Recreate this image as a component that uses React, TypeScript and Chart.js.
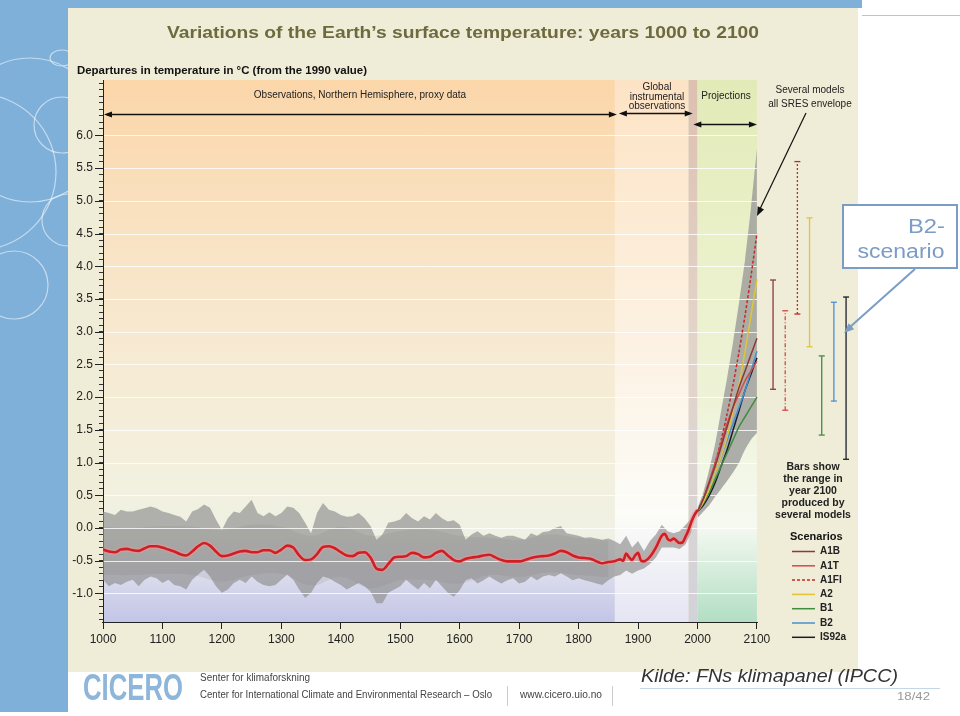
import React, { useEffect, useRef } from 'react';
import { Chart, registerables } from 'chart.js';

Chart.register(...registerables);

// ---------- data ----------
const X_TICKS = [1000, 1100, 1200, 1300, 1400, 1500, 1600, 1700, 1800, 1900, 2000, 2100];
const Y_MAJOR = [-1.0, -0.5, 0.0, 0.5, 1.0, 1.5, 2.0, 2.5, 3.0, 3.5, 4.0, 4.5, 5.0, 5.5, 6.0];

// proxy / instrumental annual range, decadal steps from 1000 to 1990
const BAND_START = 1000;
const BAND_STEP = 10;
const BAND_UPPER = [
  0.25, 0.23, 0.2, 0.28, 0.25, 0.25, 0.28, 0.3, 0.33, 0.3,
  0.25, 0.23, 0.2, 0.17, 0.1, 0.25, 0.29, 0.36, 0.31, 0.13,
  -0.03, 0.15, 0.25, 0.23, 0.33, 0.43, 0.23, 0.18, 0.24, 0.18,
  0.23, 0.33, 0.31, 0.23, 0.08, -0.08, 0.23, 0.38, 0.28, 0.25,
  0.2, 0.17, 0.18, 0.23, 0.15, 0.03, -0.18, -0.1, 0.08, 0.1,
  0.13, 0.23, 0.15, 0.1, 0.18, 0.13, 0.23, 0.15, 0.1, 0.12,
  0.05, -0.18, -0.1, -0.05, -0.12, -0.08, -0.12, -0.15, -0.12, -0.12,
  -0.15, -0.18, -0.08, -0.12, -0.06, -0.05, 0.0, 0.03, -0.08, -0.1,
  -0.12, -0.15, -0.14, -0.16, -0.18, -0.16, -0.2, -0.25, -0.12, -0.3,
  -0.2, -0.35, -0.2, -0.1, 0.05, -0.05, -0.08, -0.05, 0.05, 0.15,
];
const BAND_LOWER = [
  -0.79, -0.89, -0.84, -0.87, -0.82, -0.79, -0.89, -0.79, -0.74, -0.77,
  -0.84, -0.79, -0.87, -0.89, -0.94, -0.79, -0.71, -0.64, -0.74, -0.89,
  -0.99, -0.94, -0.84, -0.79, -0.84, -0.74, -0.82, -0.87, -0.89, -0.87,
  -0.79, -0.71, -0.79, -0.94, -1.07, -0.99, -0.84, -0.74, -0.77, -0.82,
  -0.87, -0.94, -0.89, -0.84, -0.89, -0.97, -1.15, -1.15, -0.99, -0.94,
  -0.89, -0.79, -0.87, -0.94, -0.84, -0.92, -0.79, -0.89, -0.99, -1.05,
  -0.95, -0.8, -0.77, -0.85, -0.8, -0.74, -0.8, -0.85, -0.8, -0.77,
  -0.85, -0.82, -0.74, -0.8, -0.74, -0.72, -0.74, -0.69, -0.74, -0.8,
  -0.77, -0.8, -0.82, -0.85, -0.87, -0.8, -0.74, -0.72, -0.65, -0.7,
  -0.65, -0.62, -0.55, -0.45, -0.3, -0.3, -0.3, -0.32, -0.25, -0.05,
];

// darker inner uncertainty band (every 50 years)
const INNER_YEARS = [1000, 1050, 1100, 1150, 1200, 1250, 1300, 1350, 1400, 1450, 1500, 1550, 1600, 1650, 1700, 1750, 1800, 1850];
const INNER_UPPER = [0.02, 0.0, 0.03, 0.02, -0.03, 0.05, 0.02, -0.12, 0.02, -0.12, -0.05, -0.03, -0.12, -0.15, -0.18, -0.1, -0.15, -0.2];
const INNER_LOWER = [-0.72, -0.72, -0.7, -0.72, -0.82, -0.72, -0.7, -0.88, -0.75, -0.92, -0.8, -0.8, -0.85, -0.72, -0.75, -0.68, -0.72, -0.75];

// smoothed observations (red curve)
const RED_YEARS = [
  1000, 1010, 1020, 1030, 1040, 1050, 1060, 1070, 1080, 1090,
  1100, 1110, 1120, 1130, 1140, 1150, 1160, 1170, 1180, 1190,
  1200, 1210, 1220, 1230, 1240, 1250, 1260, 1270, 1280, 1290,
  1300, 1310, 1320, 1330, 1340, 1350, 1360, 1370, 1380, 1390,
  1400, 1410, 1420, 1430, 1440, 1450, 1460, 1470, 1480, 1490,
  1500, 1510, 1520, 1530, 1540, 1550, 1560, 1570, 1580, 1590,
  1600, 1610, 1620, 1630, 1640, 1650, 1660, 1670, 1680, 1690,
  1700, 1710, 1720, 1730, 1740, 1750, 1760, 1770, 1780, 1790,
  1800, 1810, 1820, 1830, 1840, 1850, 1860, 1870, 1875, 1880,
  1885, 1890, 1895, 1900, 1905, 1910, 1920, 1930, 1940, 1945,
  1950, 1955, 1960, 1965, 1970, 1975, 1980, 1985, 1990, 1995, 2000,
];
const RED_VALUES = [
  -0.33, -0.36, -0.37, -0.33, -0.32, -0.34, -0.35, -0.31, -0.28, -0.28,
  -0.3, -0.33, -0.36, -0.4, -0.42, -0.36, -0.28, -0.23, -0.27, -0.36,
  -0.43, -0.42, -0.39, -0.36, -0.35, -0.37, -0.37, -0.34, -0.34, -0.38,
  -0.33, -0.27, -0.3, -0.42, -0.49, -0.48, -0.4, -0.29, -0.28, -0.31,
  -0.37, -0.42, -0.43, -0.38, -0.37, -0.45, -0.62, -0.64, -0.55, -0.45,
  -0.44, -0.43, -0.38, -0.4, -0.45, -0.44, -0.38, -0.35, -0.42, -0.49,
  -0.51, -0.47, -0.45, -0.44, -0.42, -0.41, -0.45, -0.49, -0.51, -0.51,
  -0.51, -0.49, -0.46, -0.44, -0.43, -0.42, -0.39, -0.35, -0.37, -0.42,
  -0.45, -0.46, -0.47, -0.51, -0.54, -0.52, -0.51, -0.48, -0.5, -0.39,
  -0.45, -0.49, -0.42, -0.38, -0.5, -0.51, -0.44, -0.3, -0.12, -0.09,
  -0.17, -0.19, -0.16, -0.2, -0.23, -0.22, -0.13, -0.03, 0.1, 0.2, 0.27,
];

// projections
const PROJ_YEARS = [2000, 2010, 2020, 2030, 2040, 2050, 2060, 2070, 2080, 2090, 2100];
const SCENARIOS = ['A1B', 'A1T', 'A1FI', 'A2', 'B1', 'B2', 'IS92a'];
const PROJ_A1B = [0.25, 0.45, 0.7, 0.95, 1.25, 1.55, 1.85, 2.15, 2.4, 2.65, 2.9];
const PROJ_A1T = [0.25, 0.45, 0.72, 1.0, 1.3, 1.6, 1.85, 2.05, 2.25, 2.4, 2.55];
const PROJ_A1FI = [0.25, 0.45, 0.7, 1.0, 1.35, 1.75, 2.2, 2.7, 3.25, 3.85, 4.5];
const PROJ_A2 = [0.25, 0.4, 0.6, 0.85, 1.1, 1.4, 1.8, 2.2, 2.7, 3.25, 3.8];
const PROJ_B1 = [0.25, 0.38, 0.55, 0.75, 0.95, 1.15, 1.35, 1.55, 1.7, 1.85, 2.0];
const PROJ_B2 = [0.25, 0.42, 0.62, 0.85, 1.1, 1.35, 1.6, 1.85, 2.1, 2.4, 2.7];
const PROJ_IS92A = [0.25, 0.35, 0.5, 0.7, 0.95, 1.2, 1.5, 1.8, 2.1, 2.35, 2.6];
const PROJ_SERIES = [PROJ_A1B, PROJ_A1T, PROJ_A1FI, PROJ_A2, PROJ_B1, PROJ_B2, PROJ_IS92A];

// all SRES envelope
const ENV_UPPER = [0.3, 0.55, 0.9, 1.3, 1.8, 2.3, 2.85, 3.45, 4.1, 4.9, 5.8];
const ENV_LOWER = [0.15, 0.25, 0.35, 0.48, 0.6, 0.72, 0.85, 1.0, 1.2, 1.35, 1.45];

// model range in year 2100 per scenario
const RANGE_LOW = [2.12, 1.8, 3.27, 2.77, 1.42, 1.94, 1.05];
const RANGE_HIGH = [3.79, 3.32, 5.6, 4.74, 2.63, 3.45, 3.53];

// ---------- styles ----------
const STYLE: Record<string, { color: string; dash: number[]; barDash: number[] }> = {
  A1B: { color: '#8a3a3a', dash: [], barDash: [] },
  A1T: { color: '#d44a4a', dash: [], barDash: [4, 2, 1, 2] },
  A1FI: { color: '#c62828', dash: [3, 2], barDash: [2, 2] },
  A2: { color: '#e2c43c', dash: [], barDash: [] },
  B1: { color: '#3e8e3e', dash: [], barDash: [] },
  B2: { color: '#4a90d0', dash: [], barDash: [] },
  IS92a: { color: '#1c1c28', dash: [], barDash: [] },
};
const FONT = '"Liberation Sans", Arial, Helvetica, sans-serif';

function fitText(ctx: CanvasRenderingContext2D, text: string, x: number, y: number, width: number, font: string, color: string, align = 'left') {
  ctx.save();
  ctx.font = font;
  ctx.fillStyle = color;
  ctx.textBaseline = 'alphabetic';
  const w = ctx.measureText(text).width;
  const sx = width / w;
  let x0 = x;
  if (align === 'center') x0 = x - width / 2;
  else if (align === 'right') x0 = x - width;
  ctx.translate(x0, y);
  ctx.scale(sx, 1);
  ctx.textAlign = 'left';
  ctx.fillText(text, 0, 0);
  ctx.restore();
}

function text(ctx: CanvasRenderingContext2D, t: string, x: number, y: number, font: string, color: string, align: CanvasTextAlign = 'center') {
  ctx.save();
  ctx.font = font;
  ctx.fillStyle = color;
  ctx.textAlign = align;
  ctx.textBaseline = 'middle';
  ctx.fillText(t, x, y);
  ctx.restore();
}

function head(ctx: CanvasRenderingContext2D, x0: number, y0: number, x1: number, y1: number, len = 7, half = 3) {
  const a = Math.atan2(y1 - y0, x1 - x0);
  ctx.beginPath();
  ctx.moveTo(x1, y1);
  ctx.lineTo(x1 - len * Math.cos(a) + half * Math.sin(a), y1 - len * Math.sin(a) - half * Math.cos(a));
  ctx.lineTo(x1 - len * Math.cos(a) - half * Math.sin(a), y1 - len * Math.sin(a) + half * Math.cos(a));
  ctx.closePath();
  ctx.fill();
}

function dblArrow(ctx: CanvasRenderingContext2D, xa: number, xb: number, y: number) {
  ctx.save();
  ctx.strokeStyle = '#111';
  ctx.fillStyle = '#111';
  ctx.lineWidth = 1.3;
  ctx.beginPath();
  ctx.moveTo(xa + 3, y);
  ctx.lineTo(xb - 3, y);
  ctx.stroke();
  head(ctx, xb, y, xa, y, 8, 3);
  head(ctx, xa, y, xb, y, 8, 3);
  ctx.restore();
}

const decor = {
  id: 'decor',
  beforeDraw(chart: any) {
    const ctx: CanvasRenderingContext2D = chart.ctx;
    const ca = chart.chartArea;
    const xs = chart.scales.x;
    ctx.save();
    ctx.fillStyle = '#ffffff';
    ctx.fillRect(0, 0, 960, 716);
    ctx.fillStyle = '#7fb0d9';
    ctx.fillRect(0, 0, 68, 712);
    ctx.fillRect(0, 0, 862, 8);
    ctx.strokeStyle = '#a9c8e4';
    ctx.lineWidth = 1;
    ctx.beginPath();
    ctx.moveTo(862, 15.5);
    ctx.lineTo(960, 15.5);
    ctx.stroke();
    // decorative circles
    ctx.save();
    ctx.beginPath();
    ctx.rect(0, 8, 68, 704);
    ctx.clip();
    ctx.strokeStyle = 'rgba(255,255,255,0.55)';
    ctx.lineWidth = 1.2;
    const circ = (cx: number, cy: number, r: number) => { ctx.beginPath(); ctx.arc(cx, cy, r, 0, Math.PI * 2); ctx.stroke(); };
    circ(30, 130, 72);
    circ(-22, 172, 78);
    circ(62, 125, 28);
    circ(68, 220, 26);
    circ(14, 285, 34);
    ctx.beginPath(); ctx.ellipse(62, 58, 12, 8, 0, 0, Math.PI * 2); ctx.stroke();
    ctx.restore();
    // figure background
    ctx.fillStyle = '#efecd7';
    ctx.fillRect(68, 8, 790, 664);
    // period backgrounds
    const top = ca.top, bot = ca.bottom;
    const region = (y0: number, y1: number, stops: [number, string][]) => {
      const a = xs.getPixelForValue(y0), b = xs.getPixelForValue(y1);
      const g = ctx.createLinearGradient(0, top, 0, bot);
      stops.forEach(([o, c]) => g.addColorStop(o, c));
      ctx.fillStyle = g;
      ctx.fillRect(a, top, b - a, bot - top);
    };
    region(1000, 1861, [[0, '#fbd6a9'], [0.25, '#f9e1c0'], [0.5, '#f7ead2'], [0.72, '#f3f0de'], [0.84, '#eff1e4'], [0.92, '#d9daec'], [1, '#c2c5e6']]);
    region(1861, 1985, [[0, '#fde3c5'], [0.4, '#fcefdd'], [0.8, '#fcfcf8'], [1, '#e4e5f3']]);
    region(1985, 2000, [[0, '#dcc0b0'], [0.5, '#e3d5cb'], [1, '#d2d2da']]);
    region(2000, 2100, [[0, '#e2eab8'], [0.3, '#eaf0c8'], [0.6, '#eef3d8'], [0.82, '#f6f9f1'], [1, '#b2dec4']]);
    ctx.restore();
  },
  afterDatasetDraw(chart: any, args: any) {
    if (chart.data.datasets[args.index].label !== 'envUpper') return;
    const ctx: CanvasRenderingContext2D = chart.ctx;
    const xs = chart.scales.x, ys = chart.scales.y;
    ctx.save();
    ctx.strokeStyle = 'rgba(255,255,255,0.8)';
    ctx.lineWidth = 1;
    const a = xs.getPixelForValue(1000) + 1, b = xs.getPixelForValue(2100);
    for (const v of Y_MAJOR) {
      const y = Math.round(ys.getPixelForValue(v)) + 0.5;
      ctx.beginPath();
      ctx.moveTo(a, y);
      ctx.lineTo(b, y);
      ctx.stroke();
    }
    ctx.restore();
  },
  afterDraw(chart: any) {
    const ctx: CanvasRenderingContext2D = chart.ctx;
    const ca = chart.chartArea;
    const xs = chart.scales.x, ys = chart.scales.y;
    ctx.save();
    // x axis line
    ctx.strokeStyle = '#222';
    ctx.lineWidth = 1;
    ctx.beginPath();
    ctx.moveTo(xs.getPixelForValue(1000) - 1, Math.round(ca.bottom) + 0.5);
    ctx.lineTo(xs.getPixelForValue(2100) + 1, Math.round(ca.bottom) + 0.5);
    ctx.stroke();
    // major y ticks
    for (const v of Y_MAJOR) {
      const y = Math.round(ys.getPixelForValue(v)) + 0.5;
      ctx.beginPath();
      ctx.moveTo(ca.left - 8, y);
      ctx.lineTo(ca.left, y);
      ctx.stroke();
    }
    // titles
    fitText(ctx, 'Variations of the Earth\u2019s surface temperature: years 1000 to 2100', 463, 38, 592, `bold 17px ${FONT}`, '#6d6a3e', 'center');
    fitText(ctx, 'Departures in temperature in \u00B0C (from the 1990 value)', 77, 74, 290, `bold 11px ${FONT}`, '#111');
    // period headers
    const f10 = `10px ${FONT}`;
    text(ctx, 'Observations, Northern Hemisphere, proxy data', 360, 95, f10, '#222');
    text(ctx, 'Global', 657, 87, f10, '#222');
    text(ctx, 'instrumental', 657, 97, f10, '#222');
    text(ctx, 'observations', 657, 106, f10, '#222');
    text(ctx, 'Projections', 726, 96, f10, '#222');
    text(ctx, 'Several models', 810, 90, f10, '#222');
    text(ctx, 'all SRES envelope', 810, 104, f10, '#222');
    dblArrow(ctx, xs.getPixelForValue(1000) + 1, xs.getPixelForValue(1861) + 2, 114.5);
    dblArrow(ctx, xs.getPixelForValue(1861) + 4, xs.getPixelForValue(1992), 113.5);
    dblArrow(ctx, xs.getPixelForValue(1993), xs.getPixelForValue(2100), 124.5);
    // envelope pointer
    ctx.strokeStyle = '#111';
    ctx.fillStyle = '#111';
    ctx.lineWidth = 1.2;
    ctx.beginPath();
    ctx.moveTo(806, 113);
    ctx.lineTo(759, 211);
    ctx.stroke();
    head(ctx, 806, 113, 757, 216, 9, 3.5);
    // bars note
    const fb = `bold 10.5px ${FONT}`;
    ['Bars show', 'the range in', 'year 2100', 'produced by', 'several models'].forEach((t, i) => text(ctx, t, 813, 467 + i * 12, fb, '#222'));
    // legend
    text(ctx, 'Scenarios', 790, 537, `bold 11px ${FONT}`, '#111', 'left');
    SCENARIOS.forEach((s, i) => {
      const y = 551.5 + i * 14.3;
      const st = STYLE[s];
      ctx.save();
      ctx.strokeStyle = st.color;
      ctx.lineWidth = 1.5;
      ctx.setLineDash(st.dash);
      ctx.beginPath();
      ctx.moveTo(792, y);
      ctx.lineTo(815, y);
      ctx.stroke();
      ctx.restore();
      text(ctx, s, 820, y, `bold 10px ${FONT}`, '#222', 'left');
    });
    // footer
    fitText(ctx, 'CICERO', 83, 700, 100, `bold 36px ${FONT}`, '#8db6da');
    fitText(ctx, 'Senter for klimaforskning', 200, 681, 110, `10px ${FONT}`, '#444');
    fitText(ctx, 'Center for International Climate and Environmental Research \u2013 Oslo', 200, 698, 292, `11px ${FONT}`, '#444');
    fitText(ctx, 'www.cicero.uio.no', 520, 698, 82, `11px ${FONT}`, '#444');
    ctx.strokeStyle = '#cccccc';
    ctx.lineWidth = 1;
    ctx.beginPath();
    ctx.moveTo(507.5, 686); ctx.lineTo(507.5, 706);
    ctx.moveTo(612.5, 686); ctx.lineTo(612.5, 706);
    ctx.stroke();
    fitText(ctx, 'Kilde: FNs klimapanel (IPCC)', 641, 682, 257, `italic 18px ${FONT}`, '#333');
    ctx.strokeStyle = '#c5d6e6';
    ctx.beginPath();
    ctx.moveTo(640, 688.5); ctx.lineTo(940, 688.5);
    ctx.stroke();
    fitText(ctx, '18/42', 897, 700, 33, `10px ${FONT}`, '#999');
    // B2 callout
    ctx.fillStyle = '#ffffff';
    ctx.fillRect(843, 205, 114, 63);
    ctx.strokeStyle = '#7b9cc5';
    ctx.lineWidth = 2;
    ctx.strokeRect(843, 205, 114, 63);
    fitText(ctx, 'B2-', 945, 233, 37, `20px ${FONT}`, '#7b9cc5', 'right');
    fitText(ctx, 'scenario', 901, 258, 87, `20px ${FONT}`, '#7b9cc5', 'center');
    ctx.beginPath();
    ctx.moveTo(915, 269);
    ctx.lineTo(850, 327);
    ctx.stroke();
    ctx.fillStyle = '#7b9cc5';
    head(ctx, 915, 269, 844, 333, 10, 4);
    ctx.restore();
  },
};

export default function App() {
  const ref = useRef<HTMLCanvasElement>(null);
  useEffect(() => {
    const pts = (xsArr: number[], ysArr: number[]) => ysArr.map((y, i) => ({ x: xsArr[i], y }));
    const bandYears = BAND_UPPER.map((_, i) => BAND_START + i * BAND_STEP);
    const datasets: any[] = [
      { label: 'bandUpper', data: pts(bandYears, BAND_UPPER), borderWidth: 0, pointRadius: 0, fill: '+1', backgroundColor: 'rgba(145,145,145,0.68)', order: 10 },
      { label: 'bandLower', data: pts(bandYears, BAND_LOWER), borderWidth: 0, pointRadius: 0, fill: false, order: 10 },
      { label: 'innerUpper', data: pts(INNER_YEARS, INNER_UPPER), tension: 0.4, borderWidth: 0, pointRadius: 0, fill: '+1', backgroundColor: 'rgba(120,120,120,0.15)', order: 9 },
      { label: 'innerLower', data: pts(INNER_YEARS, INNER_LOWER), tension: 0.4, borderWidth: 0, pointRadius: 0, fill: false, order: 9 },
      { label: 'envUpper', data: pts(PROJ_YEARS, ENV_UPPER), tension: 0.2, borderWidth: 0, pointRadius: 0, fill: '+1', backgroundColor: 'rgba(150,150,150,0.75)', order: 8 },
      { label: 'envLower', data: pts(PROJ_YEARS, ENV_LOWER), tension: 0.2, borderWidth: 0, pointRadius: 0, fill: false, order: 8 },
      ...SCENARIOS.map((s, i) => ({
        label: s, data: pts(PROJ_YEARS, PROJ_SERIES[i]), borderColor: STYLE[s].color, borderDash: STYLE[s].dash,
        borderWidth: 1.5, pointRadius: 0, tension: 0.3, fill: false, order: 5,
      })),
      { label: 'observedHalo', data: pts(RED_YEARS, RED_VALUES), borderColor: 'rgba(236,150,150,0.55)', borderWidth: 5.5, pointRadius: 0, cubicInterpolationMode: 'monotone', fill: false, order: 3 },
      { label: 'observed', data: pts(RED_YEARS, RED_VALUES), borderColor: '#cf1f25', borderWidth: 2.6, pointRadius: 0, cubicInterpolationMode: 'monotone', fill: false, order: 2 },
      ...SCENARIOS.map((s, i) => ({
        label: 'range ' + s, xAxisID: 'xb', data: [{ x: i, y: RANGE_LOW[i] }, { x: i, y: RANGE_HIGH[i] }],
        borderColor: STYLE[s].color, borderDash: STYLE[s].barDash, borderWidth: 1.3,
        pointStyle: 'line', pointRadius: 3, pointBorderColor: STYLE[s].color, pointBorderWidth: 1.3, fill: false, order: 1,
      })),
    ];
    const chart = new Chart(ref.current as HTMLCanvasElement, {
      type: 'line',
      data: { datasets },
      options: {
        responsive: false,
        animation: false,
        devicePixelRatio: 1,
        events: [],
        layout: { padding: { top: 80, right: 102, left: 0, bottom: 0 } },
        plugins: { legend: { display: false }, tooltip: { enabled: false }, title: { display: false } },
        scales: {
          x: {
            type: 'linear', min: 1000, max: 2270, position: 'bottom',
            afterBuildTicks: (s: any) => { s.ticks = X_TICKS.map((v) => ({ value: v })); },
            afterFit: (s: any) => { s.height = 94; },
            ticks: { autoSkip: false, maxRotation: 0, padding: 3, color: '#222', font: { size: 12, family: FONT }, callback: (v: any) => String(v) },
            grid: { drawOnChartArea: false, drawTicks: true, tickLength: 7, color: '#222' },
            border: { display: false },
          },
          xb: { type: 'linear', display: false, min: -55.05, max: 6.98 },
          y: {
            type: 'linear', min: -1.437, max: 6.847,
            afterBuildTicks: (s: any) => { const t = []; for (let k = -14; k <= 68; k++) t.push({ value: k / 10 }); s.ticks = t; },
            afterFit: (s: any) => { s.width = 103; },
            ticks: {
              autoSkip: false, padding: 6, color: '#222', font: { size: 12, family: FONT },
              callback: (v: any) => (Y_MAJOR.some((m) => Math.abs(m - v) < 1e-6) ? Number(v).toFixed(1) : ''),
            },
            grid: { drawOnChartArea: false, drawTicks: true, tickLength: 4, color: '#333' },
            border: { display: true, color: '#222' },
          },
        },
      } as any,
      plugins: [decor as any],
    });
    return () => chart.destroy();
  }, []);
  return (
    <div style={{ position: 'fixed', left: 0, top: 0, width: 960, height: 716, background: '#fff' }}>
      <canvas ref={ref} width={960} height={716} style={{ display: 'block', width: 960, height: 716 }} />
    </div>
  );
}
